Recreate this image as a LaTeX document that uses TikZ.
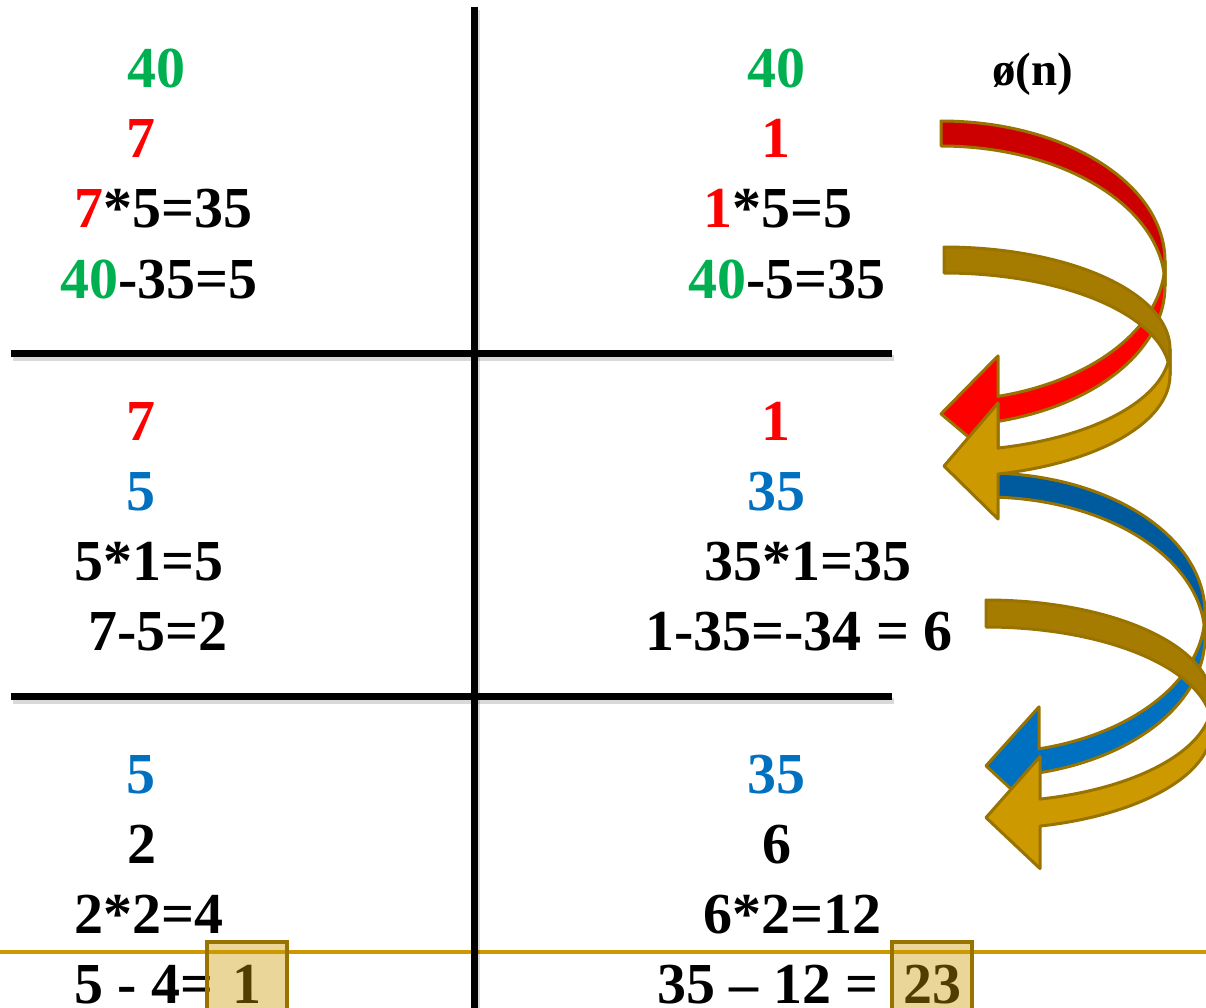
\documentclass[tikz,border=0pt]{standalone}
\usepackage{fontspec}
\setmainfont{Liberation Serif}
\definecolor{cgreen}{HTML}{00B050}
\definecolor{cred}{HTML}{FF0000}
\definecolor{cdred}{HTML}{CC0000}
\definecolor{cblue}{HTML}{0070C0}
\definecolor{cdblue}{HTML}{005A9E}
\definecolor{cgold}{HTML}{CC9900}
\definecolor{cdgold}{HTML}{A67C00}
\definecolor{cedge}{HTML}{997300}
\newcommand{\curvarr}[9]{%
  \pgfmathsetmacro{\arTh}{acos((#6-#1)/#3)}%
  \pgfmathsetmacro{\arYA}{#2+#4*sin(\arTh)}%
  \pgfmathsetmacro{\arYB}{#2+#5+#4*sin(\arTh)}%
  \pgfmathsetmacro{\arYC}{(\arYA+\arYB)/2}%
  \filldraw[arrowline, fill=#8]
    plot[domain=-90:0, samples=50] ({#1+#3*cos(\x)},{#2+#4*sin(\x)})
    -- plot[domain=0:-90, samples=50] ({#1+#3*cos(\x)},{#2+#5+#4*sin(\x)}) -- cycle;
  \filldraw[arrowline, fill=#9]
    plot[domain=0:\arTh, samples=50] ({#1+#3*cos(\x)},{#2+#4*sin(\x)})
    -- (#6,\arYC-#7) -- (#1,\arYC+5) -- (#6,\arYC+#7) -- (#6,\arYB)
    -- plot[domain=\arTh:0, samples=50] ({#1+#3*cos(\x)},{#2+#5+#4*sin(\x)}) -- cycle;
}
\tikzset{
  txt/.style={anchor=base west, inner sep=0pt, font=\fontsize{58}{60}\selectfont\bfseries},
  txtc/.style={anchor=base, inner sep=0pt, font=\fontsize{58}{60}\selectfont\bfseries},
  grid/.style={line width=7pt, black},
  gridshadow/.style={line width=6pt, black, opacity=0.15},
  arrowline/.style={draw=cedge, line width=3pt, line join=round},
  ansbox/.style={draw=cedge, line width=4pt, fill=cgold, fill opacity=0.4},
}
\begin{document}
\begin{tikzpicture}[x=1pt, y=-1pt]
\useasboundingbox (0,0) rectangle (1206,1008);
\clip (0,0) rectangle (1206,1008);
% gold baseline
\coordinate (gl) at (0,952);
\coordinate (gr) at (1206,952);
\draw[cgold, line width=3.5pt] (gl) -- (gr);
% grid shadows
\coordinate (h1a) at (11,353); \coordinate (h1b) at (892,353);
\coordinate (h2a) at (11,696); \coordinate (h2b) at (892,696);
\coordinate (vt) at (474,7); \coordinate (vb) at (474,1012);
\draw[gridshadow] ([shift={(2,5)}]h1a) -- ([shift={(2,5)}]h1b);
\draw[gridshadow] ([shift={(2,5)}]h2a) -- ([shift={(2,5)}]h2b);
\draw[gridshadow] ([shift={(3,3)}]vt) -- ([shift={(3,3)}]vb);
\draw[grid] (h1a) -- (h1b);
\draw[grid] (h2a) -- (h2b);
\draw[grid] (vt) -- (vb);
% left column
\node[txt, text=cgreen] (l1) at (127,88) {40};
\node[txt, text=cred] (l2) at (126,158) {7};
\node[txt] (l3) at (74,228) {\textcolor{cred}{7}*5=35};
\node[txt] (l4) at (60,298) {\textcolor{cgreen}{40}-35=5};
\node[txt, text=cred] (l5) at (126,440) {7};
\node[txt, text=cblue] (l6) at (126,510) {5};
\node[txt] (l7) at (74,580) {5*1=5};
\node[txt] (l8) at (88,650) {7-5=2};
\node[txt, text=cblue] (l9) at (126,793) {5};
\node[txt] (l10) at (127,863) {2};
\node[txt] (l11) at (74,933) {2*2=4};
\node[txt] (l12) at (74,1003) {5 - 4=};
\node[txtc] (l13) at (247,1003) {1};
% right column
\node[txt, text=cgreen] (r1) at (747,88) {40};
\node[txt, text=cred] (r2) at (761,158) {1};
\node[txt] (r3) at (703,228) {\textcolor{cred}{1}*5=5};
\node[txt] (r4) at (688,298) {\textcolor{cgreen}{40}-5=35};
\node[txt, text=cred] (r5) at (761,440) {1};
\node[txt, text=cblue] (r6) at (747,510) {35};
\node[txt] (r7) at (704,580) {35*1=35};
\node[txt] (r8) at (645,650) {1-35=-34 = 6};
\node[txt, text=cblue] (r9) at (747,793) {35};
\node[txt] (r10) at (762,863) {6};
\node[txt] (r11) at (703,933) {6*2=12};
\node[txt] (r12) at (657,1003) {35 – 12 =};
\node[txtc] (r13) at (932,1003) {23};
% answer boxes
\draw[ansbox] (207,942) rectangle (287,1014);
\draw[ansbox] (892,942) rectangle (972,1014);
% phi label
\node[anchor=base west, inner sep=0pt, font=\fontsize{47}{50}\selectfont\bfseries] (phi) at (992,86) {ø(n)};
% curved arrows
\curvarr{941}{261}{224}{140}{25}{998}{53}{cdred}{cred}
\curvarr{986}{613}{219}{140}{24}{1039}{54}{cdblue}{cblue}
\curvarr{944}{349}{226}{102}{26}{998}{58}{cdgold}{cgold}
\curvarr{986}{701}{226}{101}{27}{1040}{56}{cdgold}{cgold}
\end{tikzpicture}
\end{document}
